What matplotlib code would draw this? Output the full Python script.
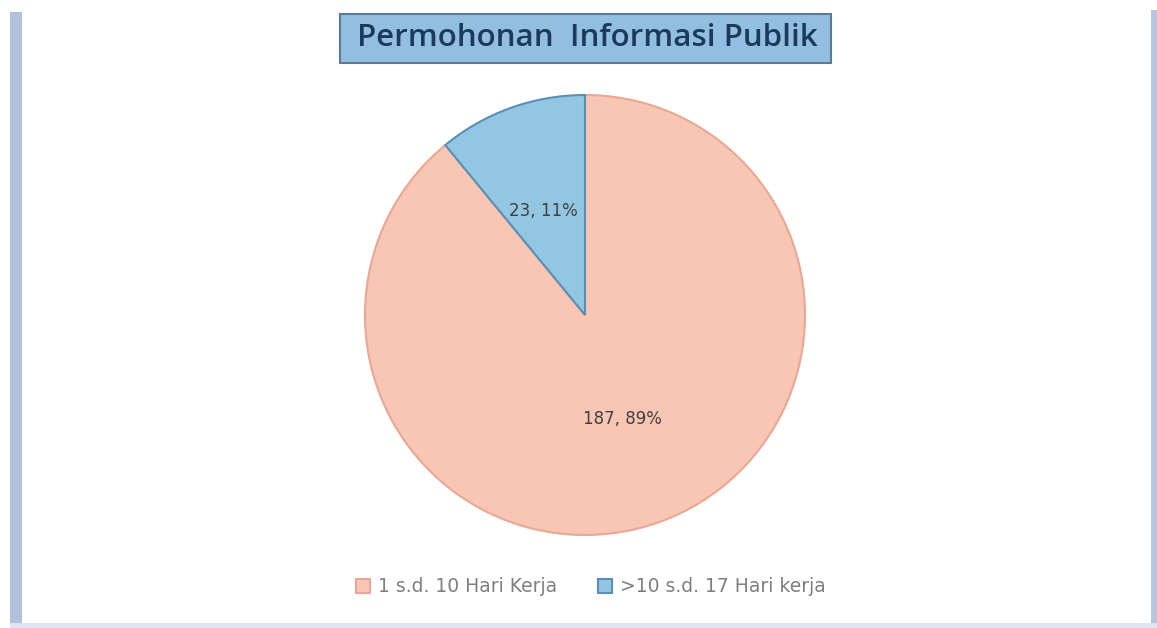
import matplotlib
matplotlib.use('Agg')
import matplotlib.pyplot as plt
from matplotlib.patches import Rectangle

# data
kategori = ["1 s.d. 10 Hari Kerja", ">10 s.d. 17 Hari kerja"]
jumlah = [187, 23]
warna = ["#F8C6B2", "#93C6E0"]
tepi = ["#E8A896", "#5A8FB8"]
judul = "Permohonan  Informasi Publik"

W, H = 1157, 628
fig = plt.figure(figsize=(W / 100, H / 100), dpi=100)
fig.patch.set_facecolor("white")

# bingkai kiri / kanan / bawah
fig.patches.append(Rectangle((10 / W, 0), 12 / W, (H - 12) / H, transform=fig.transFigure,
                             facecolor="#B3C0DC", edgecolor="none"))
fig.patches.append(Rectangle((1151 / W, 0), 6 / W, (H - 10) / H, transform=fig.transFigure,
                             facecolor="#B8C4E0", edgecolor="none"))
fig.patches.append(Rectangle((10 / W, 0), (W - 10) / W, 5 / H, transform=fig.transFigure,
                             facecolor="#DDE4F2", edgecolor="none"))

# judul
fig.patches.append(Rectangle((340 / W, (H - 63) / H), 491 / W, 49 / H, transform=fig.transFigure,
                             facecolor="#92BEE0", edgecolor="#5C7A96", linewidth=1.5))
fig.text(587 / W, (H - 38.5) / H, judul, ha="center", va="center", fontsize=22.5,
         color="#1B3A5C", family="Open Sans", fontweight="semibold")

# pie
ax = fig.add_axes([365 / W, (H - 535) / H, 440 / W, 440 / H])
total = sum(jumlah)


def label(p):
    v = round(p * total / 100)
    return f"{v}, {p:.0f}%"


wedges, texts, autotexts = ax.pie(jumlah, colors=warna, startangle=90, counterclock=False,
                                  autopct=label, pctdistance=0.5,
                                  wedgeprops=dict(linewidth=1.5),
                                  textprops=dict(fontsize=12, color="#404040"))
for w, e in zip(wedges, tepi):
    w.set_edgecolor(e)
autotexts[1].set_x(autotexts[1].get_position()[0] - 0.02)
ax.set_xlim(-1, 1)
ax.set_ylim(-1, 1)
ax.set_aspect("equal")

leg = fig.legend(wedges, kategori, loc="center", bbox_to_anchor=(591 / W, (H - 587) / H),
                 ncol=2, frameon=False, fontsize=13.5, handlelength=0.75, handleheight=0.75,
                 columnspacing=2.2, handletextpad=0.4)
for t in leg.get_texts():
    t.set_color("#7F7F7F")

fig.savefig("out.png", dpi=100)
